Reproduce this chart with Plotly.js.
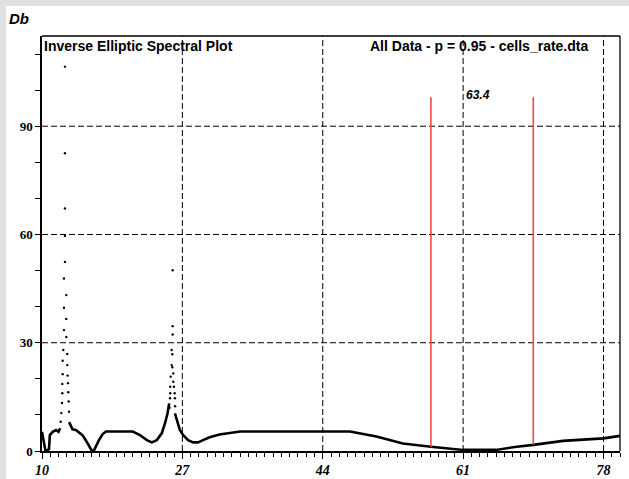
<!DOCTYPE html>
<html><head><meta charset="utf-8">
<script src="https://cdn.plot.ly/plotly-3.0.1.min.js"></script>
<style>
html,body{margin:0;padding:0;background:#e0e0e0;width:629px;height:479px;overflow:hidden;}
#chart{position:absolute;left:6px;top:6px;width:623px;height:473px;background:#fff;}
</style></head>
<body><div id="chart"></div>
<script>
// Solid part of the spectrum (null = gaps where the curve is drawn as dots)
const curveX = [10.0, 10.15, 10.4, 10.6, 10.85, 10.95, 11.3, 11.7, 12.0, 12.2, null,
  13.28, 13.7, 14.1, 14.4, 14.9, 15.3, 15.7, 16.05, 16.3, 16.5, 16.9, 17.35, 17.75, 21.0, 21.8, 22.7, 23.3, 23.9, 24.5, 24.9, 25.2, 25.4, null,
  26.1, 26.4, 26.7, 27.1, 27.7, 28.3, 28.9, 29.5, 30.3, 31.5, 32.8, 34.0, 35.2, 47.3, 50.5, 53.7, 57.1, 59.4, 61.0, 65.0, 67.5, 69.5, 73.1, 78.0, 80.0];
const curveY = [5.3, 3.5, 0.3, 0.2, 0.5, 4.4, 5.3, 5.8, 5.3, 6.3, null,
  8.0, 6.0, 5.8, 5.3, 4.4, 3.0, 1.2, 0.0, 0.2, 1.2, 3.0, 4.7, 5.4, 5.4, 4.5, 3.0, 2.4, 3.0, 4.9, 7.7, 10.4, 13.2, null,
  10.4, 7.7, 5.8, 4.4, 3.0, 2.4, 2.4, 3.0, 3.8, 4.6, 5.1, 5.4, 5.4, 5.4, 4.0, 2.1, 1.2, 0.55, 0.3, 0.3, 1.2, 1.7, 2.8, 3.5, 4.2];
// Sparse sample points on the two steep peaks
const dotsX = [12.26, 12.34, 12.42, 12.46, 12.46, 12.5, 12.5, 12.58, 12.66, 12.66, 12.66, 12.78, 12.78, 12.78, 12.78, 12.78,
  12.94, 12.94, 12.94, 13.06, 13.06, 13.1, 13.15, 13.19, 13.23, 13.27,
  25.45, 25.5, 25.53, 25.53, 25.58, 25.7, 25.7, 25.82, 25.82, 25.82,
  25.78, 25.78, 25.9, 25.9, 25.98, 26.07, 26.1, 26.12];
const dotsY = [8.1, 10.5, 13.3, 16.0, 18.6, 21.3, 25.0, 28.0, 33.5, 39.7, 47.8, 52.4, 59.6, 67.2, 82.5, 106.5,
  31.6, 36.6, 43.2, 26.9, 23.8, 20.9, 18.8, 16.3, 13.7, 10.9,
  12.0, 14.6, 16.0, 17.8, 20.6, 23.8, 28.0, 32.3, 34.6, 50.1,
  26.8, 23.2, 21.5, 19.2, 17.8, 16.0, 14.6, 12.4];
// Confidence band markers
const bandX = [57.1, 69.5];
const bandBottom = [1.2, 1.7];
const bandTop = 98;
const centerLabel = "63.4";
const centerX = 61.05;
const xRange = [10, 80], yRange = [0, 115];
const xTickStart = 10, xTickStep = 17;
const yTickStep = 30;
const xGrid = [27, 44, 61, 78];
const yGrid = [30, 60, 90];

const traces = [
  {x: curveX, y: curveY, type: 'scatter', mode: 'lines', line: {color: '#000', width: 2.6}},
  {x: dotsX, y: dotsY, type: 'scatter', mode: 'markers', marker: {color: '#000', size: 2.4}}
];
bandX.forEach((bx, i) => {
  traces.push({x: [bx, bx], y: [bandBottom[i], bandTop], type: 'scatter', mode: 'lines', line: {color: '#f04646', width: 1.6}});
});

const gridLine = {color: '#000', width: 1, dash: '6px,3px'};
const shapes = [];
xGrid.forEach(v => shapes.push({type: 'line', xref: 'x', yref: 'paper', x0: v, x1: v, y0: 0, y1: 1, line: gridLine, layer: 'below'}));
yGrid.forEach(v => shapes.push({type: 'line', xref: 'paper', yref: 'y', x0: 0, x1: 1, y0: v, y1: v, line: gridLine, layer: 'below'}));
shapes.push({type: 'line', xref: 'paper', yref: 'paper', x0: 0, x1: 1, y0: 1, y1: 1, line: {color: '#000', width: 1.3}});
shapes.push({type: 'line', xref: 'paper', yref: 'paper', x0: 1, x1: 1, y0: 0, y1: 1, line: {color: '#000', width: 1.3}});

const layout = {
  width: 623, height: 473,
  margin: {l: 36, r: 9, t: 30, b: 28, pad: 0},
  showlegend: false,
  xaxis: {
    range: xRange, tickmode: 'linear', tick0: xTickStart, dtick: xTickStep,
    ticks: 'outside', ticklen: 6, tickwidth: 1, tickcolor: '#000',
    showline: true, linecolor: '#000', linewidth: 1.6,
    gridcolor: 'rgba(0,0,0,0)', zerolinecolor: 'rgba(0,0,0,0)',
    minor: {dtick: 1, ticks: 'outside', ticklen: 4, tickcolor: '#000', tickwidth: 1},
    tickfont: {family: 'Liberation Serif', size: 14, color: '#000', weight: 'bold', style: 'italic'}
  },
  yaxis: {
    range: yRange, tickmode: 'linear', tick0: 0, dtick: yTickStep,
    ticks: 'outside', ticklen: 5, tickwidth: 1, tickcolor: '#000',
    showline: true, linecolor: '#000', linewidth: 1.6,
    gridcolor: 'rgba(0,0,0,0)', zerolinecolor: 'rgba(0,0,0,0)',
    minor: {dtick: 10, ticks: 'outside', ticklen: 5, tickcolor: '#000', tickwidth: 1},
    tickfont: {family: 'Liberation Serif', size: 13, color: '#000', weight: 'bold'}
  },
  annotations: [
    {xref: 'paper', yref: 'paper', x: 0.0, y: 1.0, xanchor: 'left', yanchor: 'top', showarrow: false,
     text: '<b>Inverse Elliptic Spectral Plot</b>', font: {family: 'Liberation Sans', size: 14, color: '#000'}},
    {xref: 'paper', yref: 'paper', x: 0.948, y: 1.0, xanchor: 'right', yanchor: 'top', showarrow: false,
     text: '<b>All Data - p = 0.95 - cells_rate.dta</b>', font: {family: 'Liberation Sans', size: 14, color: '#000'}},
    {xref: 'x', yref: 'y', x: centerX, y: 98.6, xanchor: 'left', yanchor: 'middle', showarrow: false,
     text: '<b><i>' + centerLabel + '</i></b>', font: {family: 'Liberation Sans', size: 12, color: '#000'}},
    {xref: 'paper', yref: 'paper', x: -0.061, y: 1.043, xanchor: 'left', yanchor: 'middle', showarrow: false,
     text: '<b><i>Db</i></b>', font: {family: 'Liberation Sans', size: 15, color: '#000'}}
  ],
  shapes: shapes
};
Plotly.newPlot('chart', traces, layout, {staticPlot: true});
</script></body></html>
